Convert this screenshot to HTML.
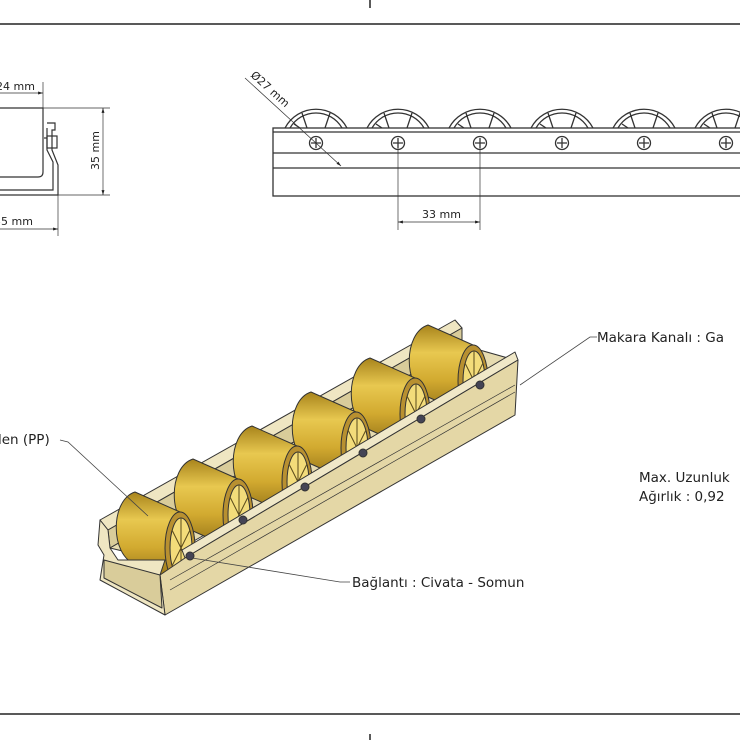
<!DOCTYPE html>
<html><head><meta charset="utf-8"><style>
html,body{margin:0;padding:0;background:#fff}
svg{display:block}
text{font-family:"DejaVu Sans","Liberation Sans",sans-serif;fill:#222}
</style></head><body>
<svg width="740" height="740" viewBox="0 0 740 740" xmlns="http://www.w3.org/2000/svg">
<defs>
<linearGradient id="g" x1="0" y1="0" x2="0" y2="1">
<stop offset="0" stop-color="#a8841c"/><stop offset="0.3" stop-color="#e8c850"/><stop offset="0.6" stop-color="#d2aa30"/><stop offset="1" stop-color="#8a6a14"/>
</linearGradient>
<marker id="a" viewBox="0 0 10 10" refX="10" refY="5" markerWidth="7" markerHeight="7" orient="auto-start-reverse"><path d="M0,2L10,5L0,8z" fill="#222"/></marker>
<g id="r">
<path d="M135,492 L180,512 C200,520 200,576 180,584 L135,564 C110,555 110,500 135,492Z" fill="url(#g)"/>
<ellipse cx="180" cy="548" rx="15" ry="36" fill="#b89030"/>
<ellipse cx="181" cy="548" rx="11" ry="30" fill="#f3dc7a"/>
<path d="M181,518V578M172,530L190,566M172,566L190,530" stroke="#5a4a1a" fill="none"/>
</g>
</defs>
<g stroke="#222" stroke-width="1.5" fill="none">
<line x1="0" y1="24" x2="740" y2="24"/><line x1="0" y1="714" x2="740" y2="714"/>
<line x1="370" y1="0" x2="370" y2="8"/><line x1="370" y1="734" x2="370" y2="740"/>
</g>
<g stroke="#333" stroke-width="1.2" fill="none">
<path d="M0,108H43V172Q43,177 38,177H0"/>
<path d="M0,190H53V162L47,150V128"/>
<path d="M0,195H58V165L52,150V130H55V123H47"/>
<rect x="47" y="136" width="10" height="12"/>
<line x1="44" y1="138" x2="47" y2="138"/>
<g stroke-width="0.7">
<line x1="43" y1="108" x2="110" y2="108"/><line x1="58" y1="195" x2="110" y2="195"/>
<line x1="43" y1="82" x2="43" y2="108"/><line x1="58" y1="195" x2="58" y2="236"/>
<line x1="103" y1="108" x2="103" y2="195" marker-start="url(#a)" marker-end="url(#a)"/>
<line x1="0" y1="93" x2="43" y2="93" marker-end="url(#a)"/>
<line x1="0" y1="229" x2="58" y2="229" marker-end="url(#a)"/>
</g></g>
<text x="-4" y="90" font-size="11">24 mm</text>
<text x="-6" y="225" font-size="11">35 mm</text>
<text x="0" y="0" font-size="11" transform="translate(99,170) rotate(-90)">35 mm</text>
<g stroke="#333" stroke-width="1.3" fill="none">
<g id="w">
<path d="M285,128A35,35 0 0 1 347,128"/>
<path d="M290,128A30,30 0 0 1 342,128"/>
<line x1="302" y1="113" x2="307" y2="128"/><line x1="330" y1="113" x2="325" y2="128"/>
<line x1="294" y1="124" x2="300" y2="128"/>
</g>
<use href="#w" x="82"/><use href="#w" x="164"/><use href="#w" x="246"/><use href="#w" x="328"/><use href="#w" x="410"/>
<rect x="273" y="128" width="480" height="68"/>
<line x1="273" y1="132" x2="740" y2="132"/>
<line x1="273" y1="153" x2="740" y2="153"/>
<line x1="273" y1="168" x2="740" y2="168"/>
<g id="s"><circle cx="316" cy="143" r="6.5"/><path d="M316,138V148M311,143H321"/></g>
<use href="#s" x="82"/><use href="#s" x="164"/><use href="#s" x="246"/><use href="#s" x="328"/><use href="#s" x="410"/>
<g stroke-width="0.7">
<line x1="398" y1="143" x2="398" y2="230"/><line x1="480" y1="143" x2="480" y2="230"/>
<line x1="398" y1="222" x2="480" y2="222" marker-start="url(#a)" marker-end="url(#a)"/>
<line x1="245" y1="78" x2="341" y2="166" marker-end="url(#a)"/>
</g></g>
<text x="422" y="218" font-size="11">33 mm</text>
<text font-size="11" transform="translate(250,76) rotate(42)">Ø27 mm</text>
<g stroke="#333" stroke-width="1" stroke-linejoin="round">
<polygon points="100,520 455,320 462,328 108,530" fill="#efe6c2"/>
<polygon points="108,530 462,328 462,345 110,548" fill="#d9cc9a"/>
<polygon points="110,548 462,345 515,360 160,560" fill="#e6dbb0"/>
<use href="#r" x="293" y="-167"/><use href="#r" x="235" y="-134"/><use href="#r" x="176" y="-100"/><use href="#r" x="117" y="-66"/><use href="#r" x="58" y="-33"/><use href="#r"/>
<polygon points="182,550 515,352 518,360 185,558" fill="#f0e8c8"/>
<polygon points="185,558 518,360 515,415 165,615 160,575" fill="#e4d7a6"/>
<line x1="170" y1="580" x2="515" y2="385" stroke-width="0.7"/>
<line x1="170" y1="590" x2="515" y2="392" stroke-width="0.7"/>
<polygon points="100,520 108,530 110,548 118,560 165,560 160,575 165,615 100,580 104,555 98,545" fill="#efe6c2"/>
<polygon points="104,560 160,575 162,608 104,578" fill="#d9cc9a"/>
<g fill="#445"><circle cx="190" cy="556" r="4"/><circle cx="243" cy="520" r="4"/><circle cx="305" cy="487" r="4"/><circle cx="363" cy="453" r="4"/><circle cx="421" cy="419" r="4"/><circle cx="480" cy="385" r="4"/></g>
</g>
<g stroke="#444" stroke-width="0.8" fill="none">
<polyline points="60,440 68,442 148,516"/>
<polyline points="350,582 340,582 192,558"/>
<polyline points="597,337 590,337 520,385"/>
</g>
<g font-size="13.5">
<text x="597" y="342">Makara Kanalı : Ga</text>
<text x="-2" y="444">len (PP)</text>
<text x="352" y="587">Bağlantı : Civata - Somun</text>
<text x="639" y="482">Max. Uzunluk</text>
<text x="639" y="501">Ağırlık : 0,92</text>
</g>
</svg>
</body></html>
